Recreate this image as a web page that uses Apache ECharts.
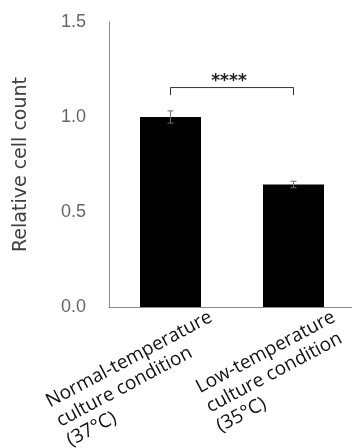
<!DOCTYPE html>
<html><head><meta charset="utf-8">
<script src="https://cdn.jsdelivr.net/npm/echarts@6/dist/echarts.min.js"></script>
<style>html,body{margin:0;padding:0;background:#fff}#c{width:352px;height:448px}</style>
</head><body><div id="c"></div>
<script>
const categories = ['Normal-temperature\nculture condition\n(37°C)', 'Low-temperature\nculture condition\n(35°C)'];
const means = [1.0, 0.645];
const errors = [0.032, 0.017];
const yMin = 0, yMax = 1.5, yStep = 0.5;
const yTitle = 'Relative cell count';
const sigPair = [0, 1];
const sigLevels = [1.115, 1.155];
const sigLabel = '****';

const chart = echarts.init(document.getElementById('c'), null, {renderer: 'canvas'});
const errData = means.map((m, i) => [i, m - errors[i], m + errors[i]]);
const sigData = [[sigPair[0], sigPair[1], sigLevels[0], sigLevels[1]]];

chart.setOption({
  animation: false,
  backgroundColor: '#fff',
  grid: {left: 109, top: 22, width: 246, height: 285, containLabel: false, outerBoundsMode: 'none'},
  xAxis: {
    type: 'category',
    data: categories,
    axisLine: {lineStyle: {color: '#8a8a8a', width: 1}},
    axisTick: {show: false},
    axisLabel: {
      interval: 0, rotate: 28, margin: 18,
      align: 'right', verticalAlign: 'top',
      padding: [0, -40, 0, 0],
      formatter: v => v.split('\n').map(s => '{a|' + s + '}').join('\n'),
      rich: {a: {align: 'left', fontFamily: 'Open Sans', fontSize: 19, lineHeight: 22, color: '#111'}}
    }
  },
  yAxis: {
    type: 'value', min: yMin, max: yMax, interval: yStep,
    name: yTitle, nameLocation: 'middle', nameRotate: 90, nameGap: 78,
    nameTextStyle: {fontFamily: 'DejaVu Sans', fontSize: 19, color: '#404040'},
    axisLine: {show: true, lineStyle: {color: '#8a8a8a', width: 1}},
    axisTick: {show: false},
    splitLine: {show: false},
    axisLabel: {margin: 23, fontFamily: 'Liberation Sans', fontSize: 18, color: '#666',
      formatter: v => v.toFixed(1)}
  },
  series: [
    {type: 'bar', data: means, barWidth: 61, itemStyle: {color: '#000'}, z: 2},
    {
      type: 'custom', data: errData, z: 5,
      renderItem: (params, api) => {
        const x = api.value(0);
        const lo = api.coord([x, api.value(1)]);
        const hi = api.coord([x, api.value(2)]);
        const w = 3;
        const st = {stroke: '#707070', lineWidth: 1};
        return {type: 'group', children: [
          {type: 'line', shape: {x1: lo[0], y1: lo[1], x2: hi[0], y2: hi[1]}, style: st},
          {type: 'line', shape: {x1: lo[0]-w, y1: lo[1], x2: lo[0]+w, y2: lo[1]}, style: st},
          {type: 'line', shape: {x1: hi[0]-w, y1: hi[1], x2: hi[0]+w, y2: hi[1]}, style: st}
        ]};
      }
    },
    {
      type: 'custom', data: sigData, z: 5,
      renderItem: (params, api) => {
        const a0 = api.coord([api.value(0), api.value(2)]);
        const a1 = api.coord([api.value(0), api.value(3)]);
        const b1 = api.coord([api.value(1), api.value(3)]);
        const b0 = api.coord([api.value(1), api.value(2)]);
        return {type: 'group', children: [
          {type: 'polyline', shape: {points: [a0, a1, b1, b0]}, style: {stroke: '#333', lineWidth: 1, fill: null}},
          {type: 'text', style: {text: sigLabel, x: (a1[0] + b1[0]) / 2 - 3, y: a1[1] + 3,
            align: 'center', verticalAlign: 'bottom', font: 'bold 17px "DejaVu Sans"', fill: '#222'}}
        ]};
      }
    }
  ]
});
</script></body></html>
